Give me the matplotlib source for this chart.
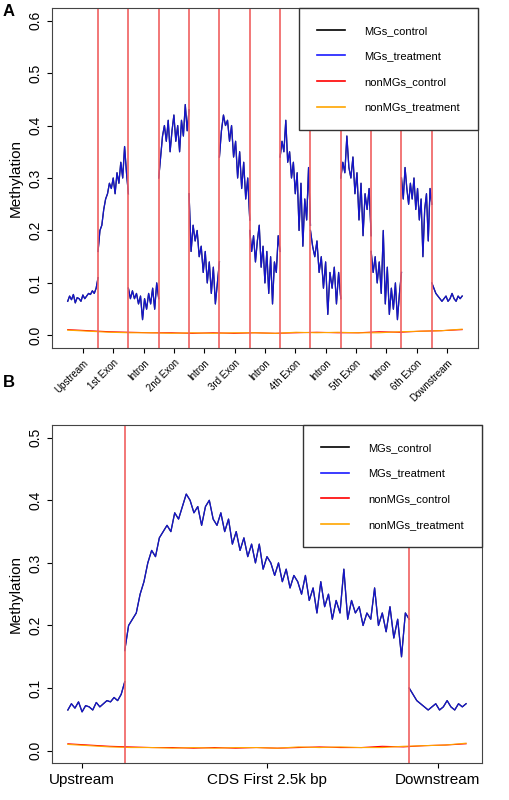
import numpy as np
import matplotlib
matplotlib.use('Agg')
import matplotlib.pyplot as plt

plt.rcParams['font.family'] = ['Liberation Sans', 'DejaVu Sans']

# Panel A: MGs_treatment values per region
segs_a = ['Upstream', '1st Exon', 'Intron', '2nd Exon', 'Intron', '3rd Exon', 'Intron',
          '4th Exon', 'Intron', '5th Exon', 'Intron', '6th Exon', 'Downstream']
upstream = [0.065, 0.075, 0.068, 0.078, 0.062, 0.072, 0.07, 0.065, 0.077, 0.07, 0.075, 0.08, 0.078, 0.085, 0.08, 0.09, 0.11]
exon1 = [0.16, 0.2, 0.21, 0.24, 0.26, 0.27, 0.29, 0.28, 0.3, 0.27, 0.31, 0.29, 0.33, 0.3, 0.36, 0.31, 0.27]
intron1 = [0.09, 0.07, 0.085, 0.07, 0.08, 0.06, 0.075, 0.03, 0.07, 0.05, 0.08, 0.06, 0.09, 0.05, 0.1, 0.07]
exon2 = [0.30, 0.34, 0.38, 0.40, 0.37, 0.41, 0.35, 0.39, 0.42, 0.37, 0.40, 0.35, 0.41, 0.38, 0.44, 0.39, 0.43]
intron2 = [0.27, 0.16, 0.21, 0.18, 0.2, 0.15, 0.17, 0.12, 0.16, 0.10, 0.14, 0.08, 0.13, 0.06, 0.10, 0.14]
exon3 = [0.34, 0.39, 0.42, 0.40, 0.41, 0.37, 0.40, 0.34, 0.37, 0.30, 0.35, 0.28, 0.33, 0.26, 0.30, 0.22]
intron3 = [0.2, 0.16, 0.19, 0.14, 0.18, 0.21, 0.13, 0.17, 0.10, 0.16, 0.08, 0.15, 0.06, 0.14, 0.12, 0.19, 0.16]
exon4 = [0.34, 0.37, 0.35, 0.41, 0.33, 0.35, 0.30, 0.33, 0.27, 0.31, 0.20, 0.29, 0.17, 0.26, 0.22, 0.32, 0.21]
intron4 = [0.2, 0.17, 0.15, 0.18, 0.12, 0.15, 0.09, 0.14, 0.04, 0.12, 0.09, 0.13, 0.06, 0.12, 0.07]
exon5 = [0.30, 0.33, 0.31, 0.38, 0.32, 0.30, 0.34, 0.27, 0.31, 0.22, 0.29, 0.19, 0.27, 0.24, 0.28, 0.19]
intron5 = [0.16, 0.12, 0.15, 0.10, 0.14, 0.08, 0.20, 0.06, 0.13, 0.04, 0.09, 0.05, 0.10, 0.03, 0.08, 0.12]
exon6 = [0.30, 0.26, 0.32, 0.28, 0.25, 0.29, 0.26, 0.30, 0.24, 0.28, 0.22, 0.26, 0.15, 0.24, 0.27, 0.18, 0.28, 0.25]
downstream = [0.10, 0.09, 0.08, 0.075, 0.07, 0.065, 0.07, 0.075, 0.065, 0.07, 0.08, 0.07, 0.065, 0.075, 0.07, 0.075]
mg_treat_a = [upstream, exon1, intron1, exon2, intron2, exon3, intron3, exon4,
              intron4, exon5, intron5, exon6, downstream]
mg_ctrl_a = mg_treat_a  # indistinguishable from treatment in the figure
nonmg_ctrl = [0.011, 0.009, 0.007, 0.006, 0.005, 0.005, 0.004, 0.005, 0.004, 0.005, 0.004, 0.005, 0.006, 0.005, 0.005, 0.007, 0.006, 0.008, 0.009, 0.011]
nonmg_treat = [0.010, 0.008, 0.006, 0.005, 0.005, 0.004, 0.005, 0.004, 0.005, 0.005, 0.004, 0.006, 0.005, 0.006, 0.005, 0.005, 0.007, 0.008, 0.009, 0.012]

# Panel B
cds = [0.16, 0.2, 0.21, 0.22, 0.25, 0.27, 0.3, 0.32, 0.31, 0.34, 0.35, 0.36, 0.35, 0.38, 0.37, 0.39, 0.41, 0.40,
       0.38, 0.39, 0.36, 0.39, 0.40, 0.37, 0.36, 0.38, 0.35, 0.37, 0.33, 0.35, 0.32, 0.34, 0.31, 0.33, 0.30, 0.33,
       0.29, 0.31, 0.30, 0.28, 0.30, 0.27, 0.29, 0.26, 0.28, 0.27, 0.25, 0.28, 0.24, 0.26, 0.22, 0.27, 0.23, 0.25,
       0.21, 0.24, 0.22, 0.29, 0.21, 0.24, 0.22, 0.23, 0.20, 0.22, 0.21, 0.26, 0.20, 0.22, 0.19, 0.23, 0.18, 0.21,
       0.15, 0.22, 0.21]
mg_treat_b = [upstream, cds, downstream]
seg_width_b = [1, 5, 1]
ticks_b = ['Upstream', 'CDS First 2.5k bp', 'Downstream']
tickpos_b = [0.25, 3.5, 6.5]

cols = {'MGs_control': 'black', 'MGs_treatment': '#1a1aff',
        'nonMGs_control': 'red', 'nonMGs_treatment': 'orange'}

fig = plt.figure(figsize=(5.09, 8), dpi=100)


def draw(ax, segs, widths, total):
    start = 0
    for vals, w in zip(segs, widths):
        x = np.linspace(start, start + w, len(vals))
        ax.plot(x, vals, color='black', lw=0.9)
        ax.plot(x, vals, color=cols['MGs_treatment'], lw=0.9, alpha=0.8)
        start += w
    xn = np.linspace(0, total, len(nonmg_ctrl))
    ax.plot(xn, nonmg_ctrl, color='red', lw=0.8)
    ax.plot(xn, nonmg_treat, color='orange', lw=0.8)
    b = 0
    for w in widths[:-1]:
        b += w
        ax.axvline(b, color='#f06060', lw=1.2)
    for name, c in cols.items():
        ax.plot([], [], color=c, lw=1.2, label=name)
    leg = ax.legend(loc='upper right', fancybox=False, edgecolor='#333333', fontsize=8,
                    borderaxespad=0, handlelength=2.5, labelspacing=1.4, borderpad=1.6,
                    framealpha=1, handletextpad=1.8)
    leg.get_frame().set_linewidth(1.0)
    ax.set_xlim(-0.04 * total, total * 1.04)
    ax.set_ylabel('Methylation', fontsize=11)
    for s in ax.spines.values():
        s.set_color('#444444')
    ax.tick_params(axis='y', labelrotation=90, labelsize=10)
    for t in ax.get_yticklabels():
        t.set_va('center')


ax1 = fig.add_axes([0.102, 0.565, 0.837, 0.425])
draw(ax1, mg_treat_a, [1] * 13, 13)
ax1.set_ylim(-0.024, 0.624)
ax1.set_yticks([0, 0.1, 0.2, 0.3, 0.4, 0.5, 0.6])
ax1.set_xticks(np.arange(13) + 0.5)
ax1.set_xticklabels(segs_a, rotation=45, ha='right', rotation_mode='anchor', fontsize=7)
fig.text(0.005, 0.985, 'A', fontsize=12, fontweight='bold', va='center')

ax2 = fig.add_axes([0.102, 0.046, 0.845, 0.4225])
draw(ax2, mg_treat_b, seg_width_b, 7)
ax2.set_ylim(-0.02, 0.52)
ax2.set_yticks([0, 0.1, 0.2, 0.3, 0.4, 0.5])
ax2.set_xticks(tickpos_b)
ax2.set_xticklabels(ticks_b, fontsize=11)
fig.text(0.005, 0.522, 'B', fontsize=12, fontweight='bold', va='center')

fig.savefig('out.png', dpi=100)
